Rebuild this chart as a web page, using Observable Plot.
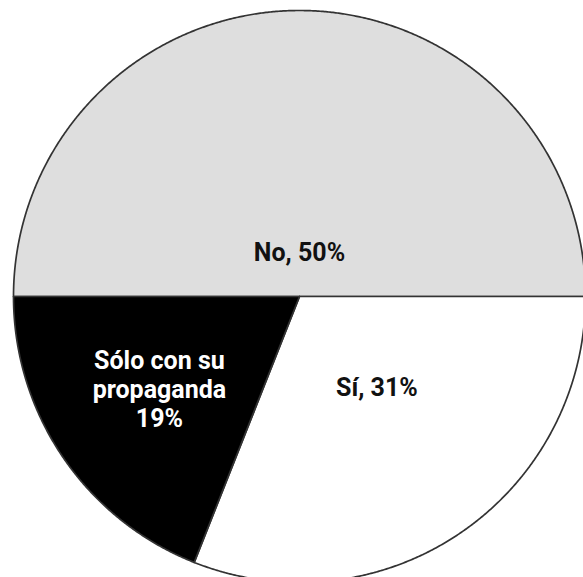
<!DOCTYPE html>
<html>
<head>
<meta charset="utf-8">
<script src="https://cdn.jsdelivr.net/npm/d3@7"></script>
<script src="https://cdn.jsdelivr.net/npm/@observablehq/plot@0.6"></script>
<style>
  html, body { margin: 0; padding: 0; background: #fff; overflow: hidden; }
  svg { overflow: hidden; }
</style>
</head>
<body>
<div id="chart"></div>
<script>
// Data
const categories = ["No", "Sí", "Sólo con su propaganda"];
const values = [50, 31, 19];
const labels = ["No, 50%", "Sí, 31%", "Sólo con su\npropaganda\n19%"];
const fills = ["#dedede", "#ffffff", "#000000"];
const textColors = ["#111111", "#111111", "#ffffff"];
// label placement (fraction of radius, angle shift in degrees from slice mid-angle)
const labelRadius = [0.156, 0.415, 0.586];
const labelShift = [0, -6.5, 0.9];

const W = 583, H = 577;
const cx = 299, cy = 296, R = 286;

const pie = d3.pie().sort(null).startAngle(-Math.PI / 2).endAngle(1.5 * Math.PI)(values);

// polygon vertices of each slice in unit-circle coordinates (y up)
const slicePts = [];
pie.forEach((p, i) => {
  const n = Math.max(2, Math.ceil((p.endAngle - p.startAngle) / 0.005));
  slicePts.push({cat: categories[i], x: 0, y: 0});
  for (let j = 0; j <= n; j++) {
    const a = p.startAngle + (p.endAngle - p.startAngle) * j / n;
    slicePts.push({cat: categories[i], x: Math.sin(a), y: Math.cos(a)});
  }
  slicePts.push({cat: categories[i], x: 0, y: 0});
});

const labelData = pie.map((p, i) => {
  const a = (p.startAngle + p.endAngle) / 2 + labelShift[i] * Math.PI / 180;
  return {cat: categories[i], label: labels[i], color: textColors[i],
          x: Math.sin(a) * labelRadius[i], y: Math.cos(a) * labelRadius[i]};
});

const chart = Plot.plot({
  width: W,
  height: H,
  margin: 0,
  x: {domain: [-cx / R, (W - cx) / R], axis: null},
  y: {domain: [-(H - cy) / R, cy / R], axis: null},
  color: {domain: categories, range: fills},
  marks: [
    Plot.line(slicePts, {
      x: "x", y: "y", z: "cat",
      fill: "cat",
      stroke: "#333333",
      strokeWidth: 1.7,
      strokeLinejoin: "round",
      curve: "linear"
    }),
    Plot.text(labelData, {
      x: "x", y: "y", text: "label",
      fill: "color",
      fontSize: 25,
      fontWeight: "bold",
      fontFamily: "Roboto",
      lineHeight: 1.16,
      lineAnchor: "middle",
      textAnchor: "middle"
    })
  ]
});
document.getElementById("chart").appendChild(chart);
</script>
</body>
</html>
